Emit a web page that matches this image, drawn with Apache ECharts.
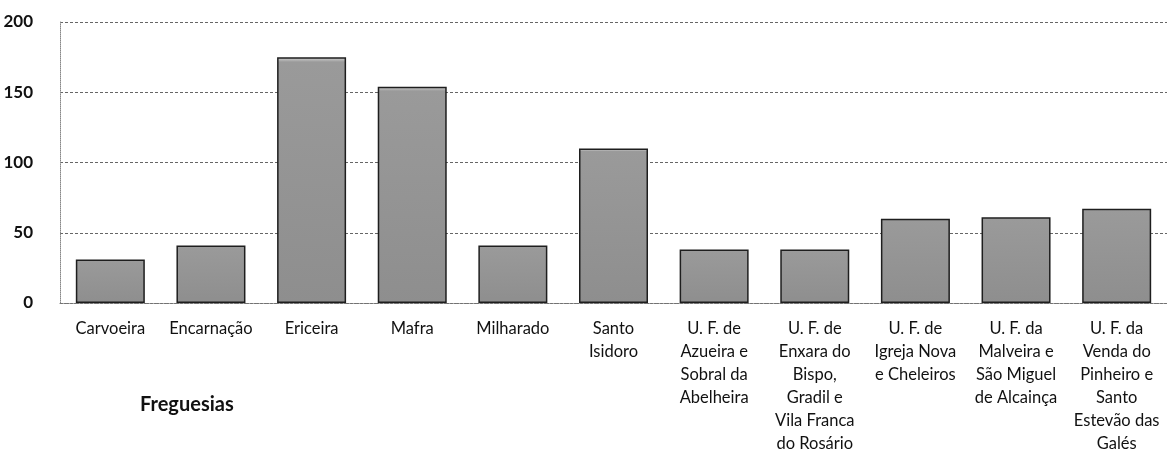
<!DOCTYPE html>
<html>
<head>
<meta charset="utf-8">
<script src="https://cdn.jsdelivr.net/npm/echarts@6/dist/echarts.min.js"></script>
<style>
  html,body{margin:0;padding:0;background:#fff;}
  #chart{width:1167px;height:459px;}
</style>
</head>
<body>
<div id="chart"></div>
<script>
// freguesias (labels already broken into lines like the original)
const categories = [
  'Carvoeira',
  'Encarnação',
  'Ericeira',
  'Mafra',
  'Milharado',
  'Santo\nIsidoro',
  'U. F. de\nAzueira e\nSobral da\nAbelheira',
  'U. F. de\nEnxara do\nBispo,\nGradil e\nVila Franca\ndo Rosário',
  'U. F. de\nIgreja Nova\ne Cheleiros',
  'U. F. da\nMalveira e\nSão Miguel\nde Alcainça',
  'U. F. da\nVenda do\nPinheiro e\nSanto\nEstevão das\nGalés'
]
const values = [31, 41, 175, 154, 41, 110, 38, 38, 60, 61, 67]
const yTicks = [0, 50, 100, 150, 200]

const font = 'Lato, "Open Sans", sans-serif'
const myChart = echarts.init(document.getElementById('chart'))
const option = {
  animation: false,
  title: {
    text: 'Freguesias',
    left: 135,
    top: 390,
    textStyle: { fontFamily: font, fontSize: 20, fontWeight: 'bold', color: '#111' }
  },
  grid: { left: 60, right: 0, top: 22, bottom: 156 },
  xAxis: {
    type: 'category',
    data: categories,
    axisLine: { show: true, lineStyle: { color: '#777', type: 'dotted', width: 1 } },
    axisTick: { show: false },
    axisLabel: {
      interval: 0,
      margin: 14,
      fontFamily: font,
      fontSize: 16.5,
      lineHeight: 23,
      color: '#111',
      align: 'center'
    }
  },
  yAxis: {
    type: 'value',
    min: yTicks[0],
    max: yTicks[yTicks.length - 1],
    interval: 50,
    axisLine: { show: true, lineStyle: { color: '#888', type: 'dotted' } },
    axisTick: { show: false },
    axisLabel: { fontFamily: font, fontSize: 17, fontWeight: 'bold', color: '#111', margin: 27 },
    splitLine: { lineStyle: { color: '#666', type: [3, 2], width: 1 } }
  },
  series: [
    {
      type: 'bar',
      data: values,
      barWidth: 69,
      itemStyle: {
        color: {
          type: 'linear', x: 0, y: 0, x2: 0, y2: 1,
          colorStops: [
            { offset: 0, color: '#d8d8d8' },
            { offset: 0.02, color: '#9a9a9a' },
            { offset: 1, color: '#8e8e8e' }
          ]
        },
        borderColor: '#1e1e1e',
        borderWidth: 1.5
      }
    }
  ]
}
myChart.setOption(option)
</script>
</body>
</html>
